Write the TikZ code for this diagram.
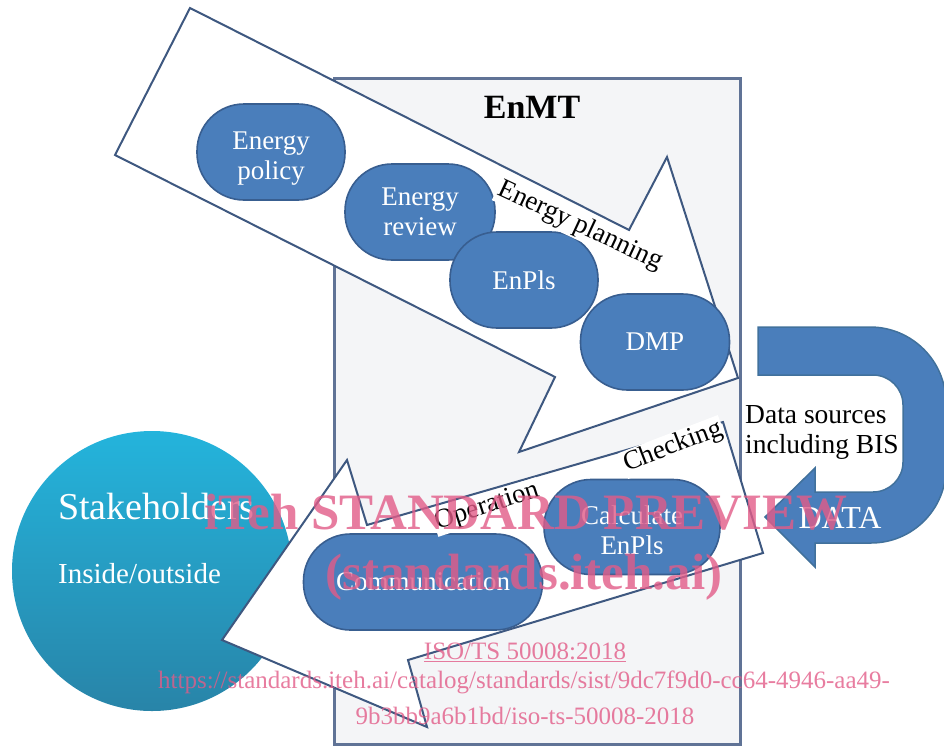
\documentclass[tikz,border=0pt]{standalone}
\usepackage{fontspec}
\setmainfont{Liberation Serif}
\definecolor{ellfill}{RGB}{74,126,187}
\definecolor{elldraw}{RGB}{56,94,144}
\definecolor{arrdraw}{RGB}{62,88,128}
\definecolor{datadraw}{RGB}{65,113,156}
\definecolor{boxfill}{RGB}{244,245,247}
\definecolor{boxdraw}{RGB}{96,115,150}
\definecolor{stktop}{RGB}{36,180,220}
\definecolor{stkbot}{RGB}{40,132,168}
\definecolor{wmark}{RGB}{226,92,136}
\begin{document}
\begin{tikzpicture}[x=1pt,y=-1pt,
  stadium/.style={draw=elldraw, line width=1.6pt, fill=ellfill, rounded corners=47pt,
    minimum height=96pt, text=white, align=center, inner sep=0pt,
    font=\fontsize{27}{30}\selectfont},
  lbltext/.style={fill=white, inner sep=1.5pt, font=\fontsize{27}{30}\selectfont},
  blockarrow/.style={draw=arrdraw, line width=2pt, fill=white, line join=miter},
  wm/.style={text=wmark, text opacity=0.8, inner sep=0pt, anchor=base}]
\useasboundingbox (0,0) rectangle (944,745);

% EnMT box
\node[draw=boxdraw, fill=boxfill, line width=2.5pt, minimum width=406pt,
  minimum height=666pt, anchor=north west, inner sep=0pt] (enmtbox) at (333,77) {};
\node[font=\bfseries\fontsize{34}{36}\selectfont, inner sep=0pt] (enmt) at (532,107) {EnMT};

% Stakeholders
\node[circle, minimum size=280pt, inner sep=0pt, top color=stktop, bottom color=stkbot,
  draw=none] (stake) at (152,571) {};
\node[anchor=base west, inner sep=0pt, text=white, font=\fontsize{38}{40}\selectfont]
  (stktext) at (58,519) {Stakeholders};
\node[anchor=base west, inner sep=0pt, text=white, font=\fontsize{29}{31}\selectfont]
  (instext) at (58,583) {Inside/outside};

% Energy planning arrow
\draw[blockarrow] (190,8) -- (629,230) -- (667,157) -- (738,378) -- (519,452)
  -- (555,377) -- (115,155) -- cycle;

% Operation / Checking arrow
\draw[blockarrow] (723,422) -- (763,553) -- (408,660) -- (427,727) -- (222,640)
  -- (347,460) -- (367,525) -- cycle;

% DATA arrow
\draw[draw=datadraw, line width=1.5pt, fill=ellfill, line join=miter]
  (758,327) -- (870,327) arc[start angle=-90, end angle=0, radius=76]
  -- (946,468) arc[start angle=0, end angle=90, radius=75]
  -- (815,543) -- (815,567) -- (765,517) -- (815,468) -- (815,492)
  -- (873,492) arc[start angle=90, end angle=0, radius=30]
  -- (903,405) arc[start angle=0, end angle=-90, radius=30]
  -- (758,375) -- cycle;
\node[anchor=base west, inner sep=0pt, font=\fontsize{27.5}{30}\selectfont]
  (ds1) at (745,423) {Data sources};
\node[anchor=base west, inner sep=0pt, font=\fontsize{27.5}{30}\selectfont]
  (ds2) at (745,453) {including BIS};
\node[anchor=base, inner sep=0pt, text=white, font=\fontsize{32}{34}\selectfont]
  (data) at (840,528) {DATA};

% process nodes
\node[stadium, minimum width=148pt] (policy) at (271,152) {\rule{0pt}{30.4pt}Energy\\policy};
\node[stadium, minimum width=150pt] (review) at (420,212) {Energy\\review};
\node[stadium, minimum width=148pt] (enpls) at (524,280) {EnPls};
\node[stadium, minimum width=149pt] (dmp) at (655,342) {DMP};
\node[stadium, minimum width=176pt, minimum height=95pt] (calc) at (632,527) {\rule{0pt}{24.4pt}Calculate\\EnPls};
\node[stadium, minimum width=239pt] (comm) at (423,582) {Communication};

% arrow labels
\node[lbltext, rotate=-25] (planlbl) at (580,226) {Energy planning};
\node[lbltext, rotate=21] (chklbl) at (673,447) {Checking};
\node[lbltext, rotate=18] (oplbl) at (487,507) {Operation};

% watermark
\node[wm, font=\bfseries\fontsize{51}{53}\selectfont] (wm1) at (526,529) {iTeh STANDARD PREVIEW};
\node[wm, font=\bfseries\fontsize{51}{53}\selectfont] (wm2) at (524,589) {(standards.iteh.ai)};
\node[wm, font=\fontsize{25}{27}\selectfont] (wm3) at (525,659) {\underline{ISO/TS 50008:2018}};
\node[wm, font=\fontsize{25}{27}\selectfont] (wm4) at (524,688)
  {https://standards.iteh.ai/catalog/standards/sist/9dc7f9d0-cc64-4946-aa49-};
\node[wm, font=\fontsize{25}{27}\selectfont] (wm5) at (525,724) {9b3bb9a6b1bd/iso-ts-50008-2018};
\end{tikzpicture}
\end{document}
